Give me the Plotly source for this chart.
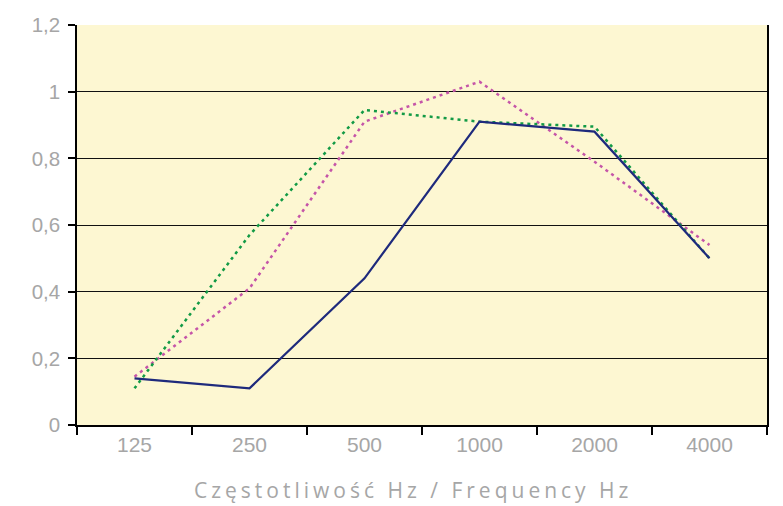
import plotly.graph_objects as go

categories = ["125", "250", "500", "1000", "2000", "4000"]
series_blue = [0.14, 0.11, 0.44, 0.91, 0.88, 0.50]
series_green = [0.11, 0.57, 0.945, 0.91, 0.895, 0.50]
series_pink = [0.145, 0.41, 0.91, 1.03, 0.79, 0.54]
y_ticks = [0, 0.2, 0.4, 0.6, 0.8, 1.0, 1.2]
x_title = "Częstotliwość Hz / Frequency Hz"

fig = go.Figure()
fig.add_trace(go.Scatter(x=categories, y=series_pink, mode="lines",
                         line=dict(color="#C555A8", width=2.5, dash="3px,4px"), name="C"))
fig.add_trace(go.Scatter(x=categories, y=series_green, mode="lines",
                         line=dict(color="#129A45", width=2.5, dash="3px,4px"), name="B"))
fig.add_trace(go.Scatter(x=categories, y=series_blue, mode="lines",
                         line=dict(color="#1E2A7C", width=2.2), name="A"))

fig.update_layout(
    width=783, height=506,
    margin=dict(l=77, r=16, t=25, b=81),
    paper_bgcolor="white",
    plot_bgcolor="#FDF7D2",
    showlegend=False,
    separators=", ",
    font=dict(family="Liberation Sans", color="#A6A6A6"),
)
fig.update_xaxes(
    type="category", tickson="boundaries", ticks="outside", ticklen=8,
    tickcolor="#000", tickwidth=1.5,
    showline=True, linecolor="#000", linewidth=1.5,
    showgrid=False,
    tickfont=dict(size=21, color="#A6A6A6"),
    range=[-0.5, 5.5],
)
fig.update_yaxes(
    range=[0, 1.2], tickvals=y_ticks, ticks="outside", ticklen=7,
    tickcolor="#000", tickwidth=1.5,
    showline=True, linecolor="#000", linewidth=1.5, mirror=True,
    showgrid=True, gridcolor="#111", gridwidth=1.2,
    zeroline=False, ticklabelstandoff=4,
    tickfont=dict(size=20.5, color="#A6A6A6"),
)
fig.add_annotation(
    text='<span style="letter-spacing:4px">' + x_title + '</span>',
    xref="paper", yref="paper", x=0.487, y=-0.1625,
    xanchor="center", yanchor="middle", showarrow=False,
    font=dict(family="Open Sans", size=21, color="#A6A6A6"),
)

fig.write_html("out.html", config={"displayModeBar": False},
               post_script="document.body.style.margin='0';")
